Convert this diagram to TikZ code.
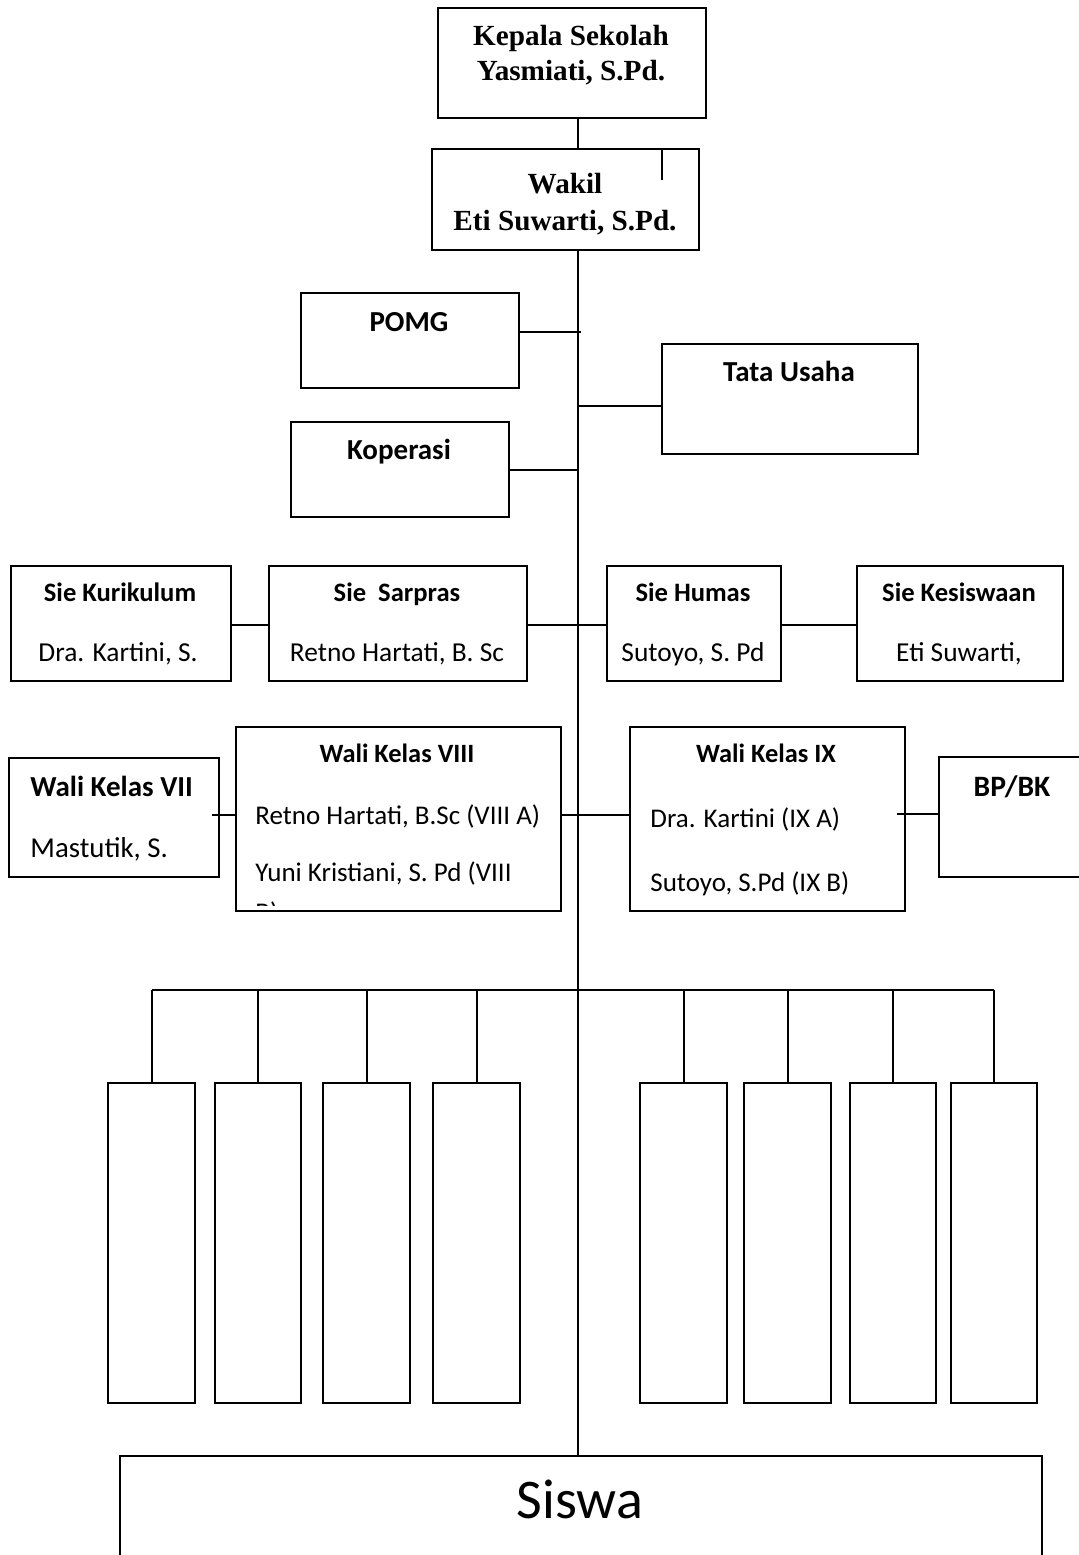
\documentclass[tikz,border=0pt]{standalone}
\usepackage{fontspec}
\setmainfont{Carlito}
\newfontfamily\timesf{Liberation Serif}
\newcommand\mybox[5]{\node[orgbox, minimum width={(#4-#2)*0.5pt}, minimum height={(#5-#3)*0.5pt}, anchor=north west] (#1) at (#2,#3) {};}
\begin{document}
\begin{tikzpicture}[x=0.5pt,y=-0.5pt,
  orgbox/.style={draw, line width=1pt, inner sep=0pt, fill=none},
  link/.style={line width=1pt},
  ttl/.style={font=\fontsize{14.6pt}{16pt}\selectfont\timesf\bfseries, anchor=base, inner sep=0pt},
  hd/.style={font=\fontsize{14.5pt}{16pt}\selectfont\bfseries, anchor=base, inner sep=0pt},
  sie/.style={font=\fontsize{13.3pt}{15pt}\selectfont\bfseries, anchor=base, inner sep=0pt},
  siename/.style={font=\fontsize{13.7pt}{15pt}\selectfont, anchor=base, inner sep=0pt},
  wt/.style={font=\fontsize{13.2pt}{15pt}\selectfont\bfseries, anchor=base, inner sep=0pt},
  wn/.style={font=\fontsize{13.5pt}{15pt}\selectfont, anchor=base west, inner sep=0pt},
]
\useasboundingbox (0,0) rectangle (1078,1555);
% boxes
\mybox{kep}{437}{7}{705}{117}
\mybox{wak}{431}{148}{698}{249}
\mybox{pomg}{300}{292}{518}{387}
\mybox{tu}{661}{343}{917}{453}
\mybox{kop}{290}{421}{508}{516}
\mybox{kur}{10}{565}{230}{680}
\mybox{sar}{268}{565}{526}{680}
\mybox{hum}{606}{565}{780}{680}
\mybox{kes}{856}{565}{1062}{680}
\mybox{wseven}{8}{757}{218}{876}
\mybox{weight}{235}{726}{560}{910}
\mybox{wnine}{629}{726}{904}{910}
\mybox{bp}{938}{756}{1084}{876}
\mybox{ka}{107}{1082}{194}{1402}
\mybox{kb}{214}{1082}{300}{1402}
\mybox{kc}{322}{1082}{409}{1402}
\mybox{kd}{432}{1082}{519}{1402}
\mybox{ke}{639}{1082}{726}{1402}
\mybox{kf}{743}{1082}{830}{1402}
\mybox{kg}{849}{1082}{935}{1402}
\mybox{kh}{950}{1082}{1036}{1402}
\mybox{siswa}{119}{1455}{1041}{1562}
% texts
\node[ttl] (t1) at (571,45) {Kepala Sekolah};
\node[ttl] (t2) at (571,80) {Yasmiati, S.Pd.};
\node[ttl] (t3) at (565,193) {Wakil};
\node[ttl] (t4) at (565,230) {Eti Suwarti, S.Pd.};
\node[hd] (t5) at (409,331) {POMG};
\node[hd] (t6) at (789,381) {Tata Usaha};
\node[hd] (t7) at (399,459) {Koperasi};
\node[sie] (s1) at (120,601) {Sie Kurikulum};
\node[siename] (s2) at (118,661) {Dra. Kartini, S.};
\node[sie] (s3) at (397,601) {Sie\ \ Sarpras};
\node[siename] (s4) at (397,661) {Retno Hartati, B. Sc};
\node[sie] (s5) at (693,601) {Sie Humas};
\node[siename] (s6) at (693,661) {Sutoyo, S. Pd};
\node[sie] (s7) at (959,601) {Sie Kesiswaan};
\node[siename] (s8) at (959,661) {Eti Suwarti,};
\node[hd, anchor=base west] (w1) at (30,796) {Wali Kelas VII};
\node[wn, font=\fontsize{14.4pt}{16pt}\selectfont] (w2) at (30,857) {Mastutik, S.};
\node[wt] (w3) at (397,762) {Wali Kelas VIII};
\node[wn] (w4) at (255,824) {Retno Hartati, B.Sc (VIII A)};
\node[wn] (w5) at (255,881) {Yuni Kristiani, S. Pd (VIII};
\begin{scope}
\clip (240,730) rectangle (556,905);
\node[wn] (w6) at (255,921) {B)};
\end{scope}
\node[wt] (w7) at (766,762) {Wali Kelas IX};
\node[wn] (w8) at (650,827) {Dra. Kartini (IX A)};
\node[wn] (w9) at (650,891) {Sutoyo, S.Pd (IX B)};
\node[hd, font=\fontsize{14.8pt}{16pt}\selectfont\bfseries] (b1) at (1012,796) {BP/BK};
\node[anchor=base, inner sep=0pt, font=\fontsize{28pt}{30pt}\selectfont] (sw) at (580,1518) {Siswa};
% connectors
\coordinate (tk) at (578,0);
\coordinate (stray) at (662,180);
\coordinate (cp) at (581,332);
\coordinate (ct) at (578,406);
\coordinate (ck) at (578,470);
\coordinate (cs) at (0,625);
\coordinate (cw) at (0,815);
\coordinate (cwa) at (212,815);
\coordinate (cwb) at (897,814);
\coordinate (bus) at (0,990);
\draw[link] (kep.south -| tk) -- (wak.north -| tk);
\draw[link] (stray) -- (stray |- wak.north);
\draw[link] (wak.south -| tk) -- (siswa.north -| tk);
\draw[link] (pomg.east |- cp) -- (cp);
\draw[link] (ct) -- (tu.west |- ct);
\draw[link] (kop.east |- ck) -- (ck);
\draw[link] (kur.east |- cs) -- (sar.west |- cs);
\draw[link] (sar.east |- cs) -- (hum.west |- cs);
\draw[link] (hum.east |- cs) -- (kes.west |- cs);
\draw[link] (cwa) -- (weight.west |- cwa);
\draw[link] (weight.east |- cw) -- (wnine.west |- cw);
\draw[link] (cwb) -- (bp.west |- cwb);
\draw[link] (ka.north |- bus) -- (kh.north |- bus);
\foreach \k in {ka,kb,kc,kd,ke,kf,kg,kh}{\draw[link] (\k.north |- bus) -- (\k.north);}
\end{tikzpicture}
\end{document}
